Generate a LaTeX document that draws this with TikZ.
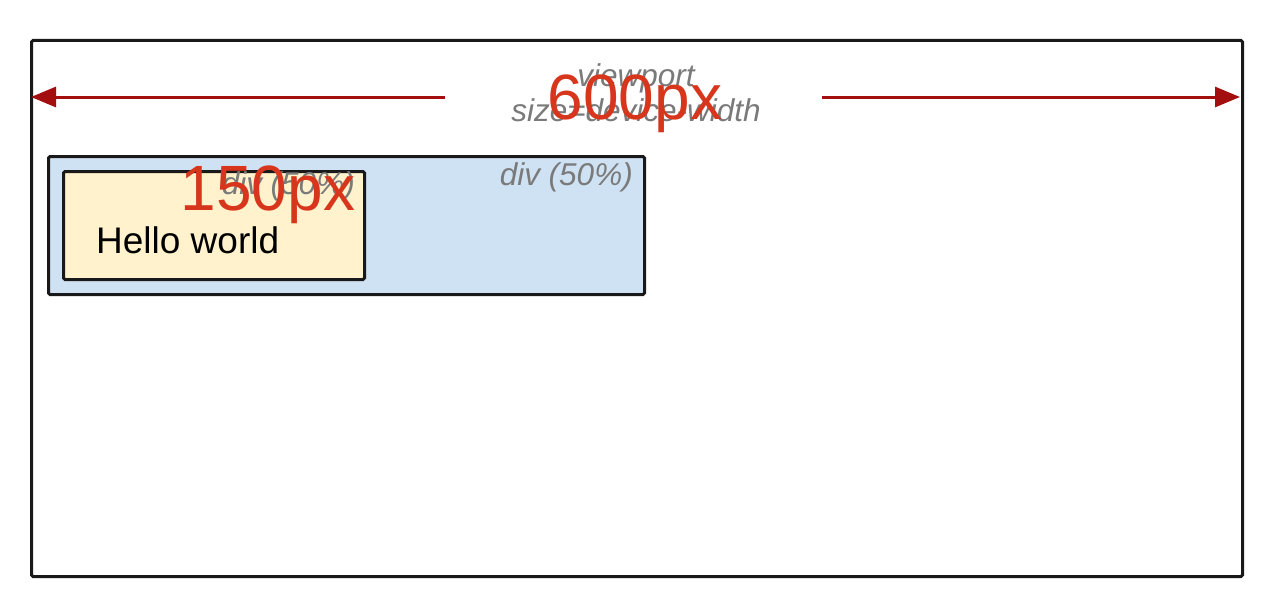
\documentclass[tikz,border=0pt]{standalone}
\usepackage{fontspec}
\setmainfont{Liberation Sans}
\usetikzlibrary{arrows.meta}
\definecolor{arrowred}{HTML}{A30F0F}
\definecolor{labelred}{HTML}{D8361C}
\definecolor{labelgray}{HTML}{7A7A7A}
\definecolor{divblue}{HTML}{CFE2F3}
\definecolor{divyellow}{HTML}{FFF2CC}
\tikzset{
  box/.style={draw=black!90, line width=3pt, rounded corners=1.5pt},
  dimarrow/.style={draw=arrowred, line width=3pt, -{Triangle[length=25pt,width=20pt]}},
  graytext/.style={text=labelgray, font=\fontsize{31.5}{35}\selectfont\itshape, inner sep=0pt},
  bigred/.style={text=labelred, font=\fontsize{64}{66}\selectfont, inner sep=0pt, anchor=base},
}
\begin{document}
\begin{tikzpicture}[x=1pt,y=-1pt]
\useasboundingbox (0,0) rectangle (1266,594);
% outer viewport
\node[box, fill=white, minimum width=1211pt, minimum height=536pt, anchor=north west] (viewport) at (30,39) {};
% dimension arrows
\coordinate (al) at (445,97);
\coordinate (ar) at (822,97);
\coordinate (lt) at (31,97);
\coordinate (rt) at (1240,97);
\draw[dimarrow] (al) -- (lt);
\draw[dimarrow] (ar) -- (rt);
% viewport labels
\node[graytext, align=center] (vplabel) at (636,93) {viewport\\size=device-width};
\node[bigred] (w600) at (635,119) {600px};
% outer div
\node[box, fill=divblue, minimum width=596pt, minimum height=138pt, anchor=north west] (outerdiv) at (47,155) {};
\node[graytext, anchor=north east] (outerlabel) at (633,162) {div (50\%)};
% inner div
\node[box, fill=divyellow, minimum width=301pt, minimum height=108pt, anchor=north west] (innerdiv) at (62,170) {};
\node[graytext, anchor=north east] (innerlabel) at (355,171) {div (50\%)};
\node[inner sep=0pt, anchor=base west, font=\fontsize{37}{44}\selectfont] (hello) at (96,253) {Hello world};
\node[bigred] (w150) at (268,210) {150px};
\end{tikzpicture}
\end{document}
